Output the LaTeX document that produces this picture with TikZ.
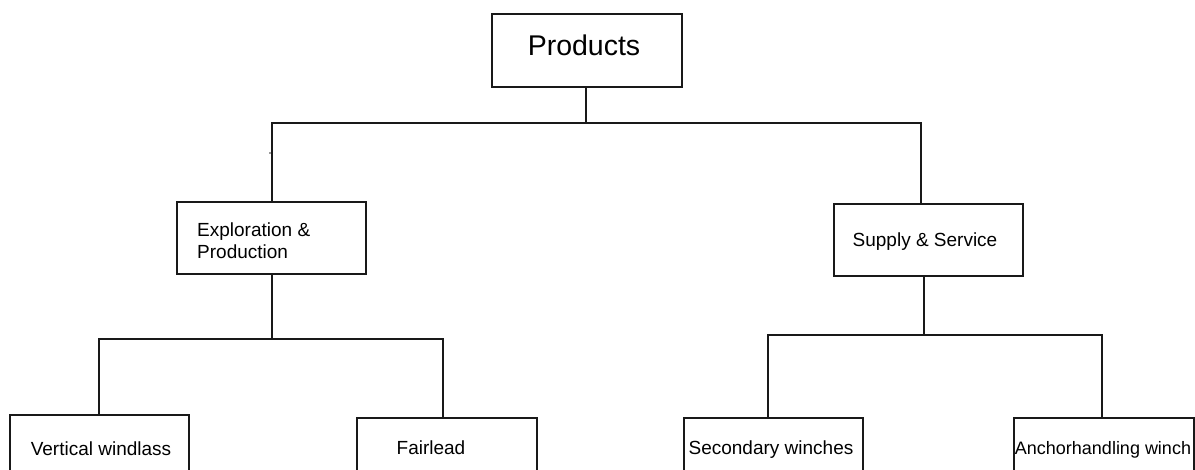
\documentclass[tikz,border=0pt]{standalone}
\usepackage{fontspec}
\setmainfont{Liberation Sans}
\begin{document}
\begin{tikzpicture}[x=1pt,y=-1pt,
  box/.style={draw=black!90, line width=1.2pt, fill=white, inner sep=0pt},
  link/.style={draw=black!90, line width=1.2pt},
  lbl/.style={font=\fontsize{19}{22}\selectfont, inner sep=0pt}]
\useasboundingbox (0,0) rectangle (1195,470);
\clip (0,0) rectangle (1195,470);

% top level
\node[box, minimum width=190, minimum height=73] (prod) at (587,50.5) {};
\node[font=\fontsize{28.5}{31}\selectfont, inner sep=0pt] (prodtxt) at (584,45) {Products};

% second level
\node[box, minimum width=189, minimum height=72] (ep) at (271.5,238) {};
\node[lbl, align=left, anchor=west] (eptxt) at (197,241) {Exploration \&\\Production};
\node[box, minimum width=189, minimum height=72] (ss) at (928.5,240) {};
\node[lbl] (sstxt) at (925,242) {Supply \& Service};

% third level (boxes run past the lower edge)
\node[box, minimum width=179, minimum height=70] (vw) at (99.5,450) {};
\node[lbl] (vwtxt) at (101,449) {Vertical windlass};
\node[box, minimum width=180, minimum height=70] (fl) at (447,453) {};
\node[lbl] (fltxt) at (431,448) {Fairlead};
\node[box, minimum width=179, minimum height=70] (sw) at (773.5,453) {};
\node[lbl] (swtxt) at (771,450) {Secondary winches};
\node[box, minimum width=180, minimum height=70] (ah) at (1104,453) {};
\node[lbl, font=\fontsize{18}{21}\selectfont] (ahtxt) at (1103,450) {Anchorhandling winch};

% junction points of the tree
\coordinate (t0) at (586,123);
\coordinate (tl) at (272,123);
\coordinate (tr) at (921,123);
\coordinate (l0) at (272,339);
\coordinate (ll) at (99,339);
\coordinate (lr) at (443,339);
\coordinate (r0) at (924,335);
\coordinate (rl) at (768,335);
\coordinate (rr) at (1102,335);

% connectors
\draw[link] (prod.south -| t0) -- (t0);
\draw[link] (ep.north -| tl) -- (tl) -- (tr) -- (ss.north -| tr);
\draw[link] (ep.south -| l0) -- (l0);
\draw[link] (vw.north -| ll) -- (ll) -- (lr) -- (fl.north -| lr);
\draw[link] (ss.south -| r0) -- (r0);
\draw[link] (sw.north -| rl) -- (rl) -- (rr) -- (ah.north -| rr);

% stray dot beside the left riser
\fill[black!80] (270,153) circle (0.8);
\end{tikzpicture}
\end{document}
